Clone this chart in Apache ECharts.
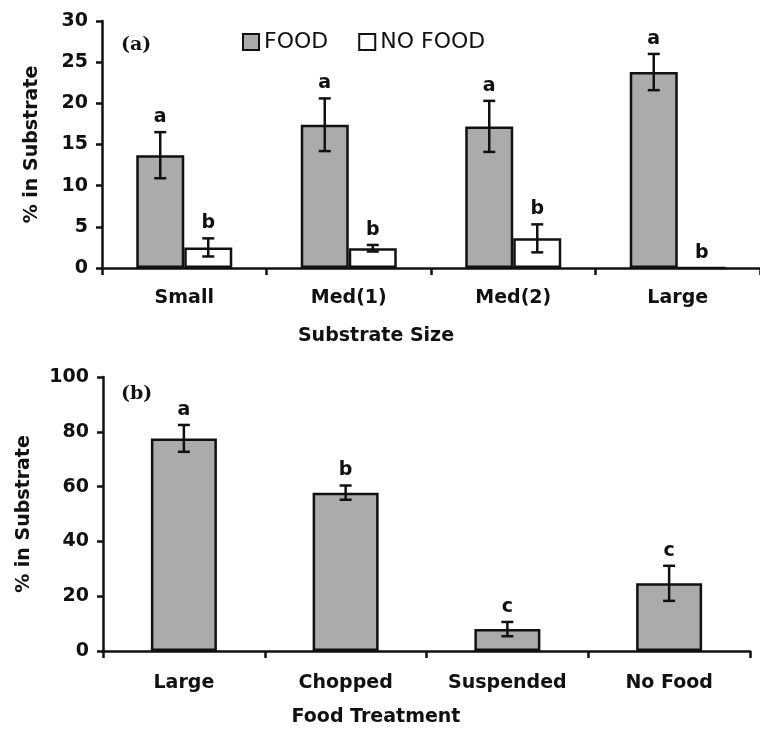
<!DOCTYPE html>
<html>
<head>
<meta charset="utf-8">
<script src="https://cdn.jsdelivr.net/npm/echarts@6/dist/echarts.min.js"></script>
<style>
  html, body { margin: 0; padding: 0; background: #fff; }
  #chart { width: 760px; height: 730px; }
</style>
</head>
<body>
<div id="chart"></div>
<script>
// Panel (a): substrate size, with and without food
const sizeCategories = ['Small', 'Med(1)', 'Med(2)', 'Large'];
const foodMeans = [13.7, 17.4, 17.2, 23.8];
const foodErrors = [2.8, 3.2, 3.1, 2.2];
const foodLetters = ['a', 'a', 'a', 'a'];
const noFoodMeans = [2.5, 2.4, 3.6, 0];
const noFoodErrors = [1.1, 0.4, 1.7, 0];
const noFoodLetters = ['b', 'b', 'b', 'b'];
const sizeTicks = { min: 0, max: 30, interval: 5 };

// Panel (b): food treatment
const treatmentCategories = ['Large', 'Chopped', 'Suspended', 'No Food'];
const treatmentMeans = [77.6, 57.8, 8.0, 24.7];
const treatmentErrors = [4.9, 2.6, 2.6, 6.4];
const treatmentLetters = ['a', 'b', 'c', 'c'];
const treatmentTicks = { min: 0, max: 100, interval: 20 };

const INK = '#111';
const GREY = '#ababab';
const SANS = '"DejaVu Sans", sans-serif';
const SERIF = '"DejaVu Serif", serif';

// Error bar with its significance letter, drawn at a horizontal offset from the category centre
function errorBarSeries(axisIndex, means, errors, letters, offset) {
  return {
    type: 'custom',
    xAxisIndex: axisIndex,
    yAxisIndex: axisIndex,
    z: 10,
    silent: true,
    data: means.map((m, i) => [i, m, errors[i]]),
    renderItem: function (params, api) {
      const i = api.value(0), m = api.value(1), e = api.value(2);
      const top = api.coord([i, m + e]);
      const bot = api.coord([i, m - e]);
      const x = top[0] + offset;
      const cap = 6;
      const ls = { stroke: INK, lineWidth: 2.5 };
      const children = [];
      if (e > 0) {
        children.push(
          { type: 'line', shape: { x1: x, y1: top[1], x2: x, y2: bot[1] }, style: ls },
          { type: 'line', shape: { x1: x - cap, y1: top[1], x2: x + cap, y2: top[1] }, style: ls },
          { type: 'line', shape: { x1: x - cap, y1: bot[1], x2: x + cap, y2: bot[1] }, style: ls }
        );
      }
      children.push({
        type: 'text',
        style: {
          text: letters[params.dataIndex],
          x: x, y: top[1] - 15,
          align: 'center', verticalAlign: 'middle',
          font: 'bold 19px ' + SANS, fill: INK
        }
      });
      return { type: 'group', children: children };
    }
  };
}

function valueAxis(gridIndex, ticks, nameGap) {
  return {
    type: 'value', gridIndex: gridIndex,
    min: ticks.min, max: ticks.max, interval: ticks.interval,
    name: '% in Substrate', nameLocation: 'middle', nameGap: nameGap,
    nameTextStyle: { fontFamily: SANS, fontWeight: 'bold', fontSize: 19, color: INK },
    axisLine: { show: true, lineStyle: { color: INK, width: 2.5 } },
    axisTick: { show: true, length: 6, lineStyle: { color: INK, width: 2.5 } },
    axisLabel: { fontFamily: SANS, fontWeight: 'bold', fontSize: 19, color: INK, margin: 14 },
    splitLine: { show: false }
  };
}

function categoryAxis(gridIndex, cats, margin) {
  return {
    type: 'category', gridIndex: gridIndex, data: cats,
    boundaryGap: true,
    axisLine: { show: true, lineStyle: { color: INK, width: 2.5 } },
    axisTick: { show: true, alignWithLabel: false, length: 7, lineStyle: { color: INK, width: 2.5 } },
    axisLabel: { fontFamily: SANS, fontWeight: 'bold', fontSize: 19, color: INK, margin: margin, interval: 0 }
  };
}

const chart = echarts.init(document.getElementById('chart'), null, { renderer: 'canvas' });

chart.setOption({
  animation: false,
  backgroundColor: '#fff',
  grid: [
    { left: 102, top: 21, width: 664, height: 247 },
    { left: 103, top: 377, width: 647, height: 274 }
  ],
  legend: {
    left: 237, top: 26,
    itemWidth: 16, itemHeight: 16, itemGap: 30,
    textStyle: { fontFamily: SANS, fontSize: 22, color: INK },
    data: [{ name: 'FOOD', icon: 'rect' }, { name: 'NO FOOD', icon: 'rect' }]
  },
  xAxis: [
    categoryAxis(0, sizeCategories, 21),
    categoryAxis(1, treatmentCategories, 23)
  ],
  yAxis: [
    valueAxis(0, sizeTicks, 60),
    valueAxis(1, treatmentTicks, 69)
  ],
  graphic: [
    { type: 'text', left: 121, top: 36, style: { text: '(a)', font: 'bold 19px ' + SERIF, fill: INK } },
    { type: 'text', left: 121, top: 385, style: { text: '(b)', font: 'bold 19px ' + SERIF, fill: INK } },
    { type: 'text', x: 376, y: 336, style: { text: 'Substrate Size', font: 'bold 19px ' + SANS, fill: INK, align: 'center', verticalAlign: 'middle' } },
    { type: 'text', x: 376, y: 717, style: { text: 'Food Treatment', font: 'bold 19px ' + SANS, fill: INK, align: 'center', verticalAlign: 'middle' } }
  ],
  series: [
    {
      name: 'FOOD', type: 'bar', xAxisIndex: 0, yAxisIndex: 0,
      data: foodMeans, barWidth: 48, barGap: '0%',
      itemStyle: { color: GREY, borderColor: INK, borderWidth: 2.5 }
    },
    {
      name: 'NO FOOD', type: 'bar', xAxisIndex: 0, yAxisIndex: 0,
      data: noFoodMeans, barWidth: 48, barGap: '0%',
      itemStyle: { color: '#fff', borderColor: INK, borderWidth: 2.5 }
    },
    errorBarSeries(0, foodMeans, foodErrors, foodLetters, -24),
    errorBarSeries(0, noFoodMeans, noFoodErrors, noFoodLetters, 24),
    {
      name: 'Treatment', type: 'bar', xAxisIndex: 1, yAxisIndex: 1,
      data: treatmentMeans, barWidth: 66,
      itemStyle: { color: GREY, borderColor: INK, borderWidth: 2.5 }
    },
    errorBarSeries(1, treatmentMeans, treatmentErrors, treatmentLetters, 0)
  ]
});
</script>
</body>
</html>
